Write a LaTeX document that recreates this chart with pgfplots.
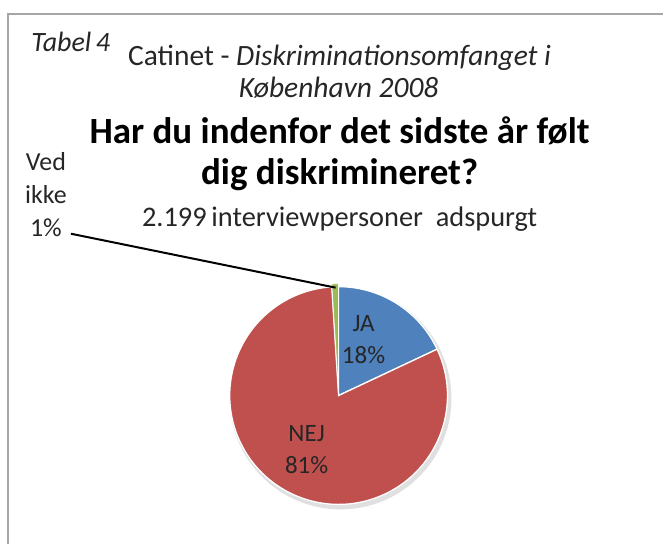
\documentclass[border=0pt]{standalone}
\usepackage{pgfplots}
\pgfplotsset{compat=1.18}
\usepackage{pgfplotstable}
\usepackage{fontspec}
\setmainfont{Carlito}

\definecolor{jablue}{HTML}{4F81BD}
\definecolor{nejred}{HTML}{C0504D}
\definecolor{vedgreen}{HTML}{9BBB59}

% andele i procent
\pgfplotstableread{
label value
JA    18
NEJ   81
Ved   1
}\piedata

\begin{document}
\begin{tikzpicture}
  \pgfplotstablegetelem{0}{value}\of\piedata \pgfmathsetmacro\vJA{\pgfplotsretval}
  \pgfplotstablegetelem{1}{value}\of\piedata \pgfmathsetmacro\vNEJ{\pgfplotsretval}
  \pgfplotstablegetelem{2}{value}\of\piedata \pgfmathsetmacro\vVED{\pgfplotsretval}
  \pgfmathsetmacro\aA{90-3.6*\vJA}
  \pgfmathsetmacro\aB{\aA-3.6*\vNEJ}
  \pgfmathsetmacro\aC{\aB-3.6*\vVED}
  \begin{axis}[
      x=1pt, y=1pt,
      xmin=0, xmax=664, ymin=0, ymax=545,
      y dir=reverse,
      hide axis, clip=false,
    ]
    \path (axis cs:0,0) rectangle (axis cs:664,545);
    % ramme
    \draw[gray!70, line width=1.6pt] (axis cs:8,545) -- (axis cs:8,14) -- (axis cs:664,14);

    % skygge
    \fill[black, opacity=0.12] (axis cs:341,399) circle[radius=111pt];
    % skiver
    \filldraw[fill=jablue, draw=white, line width=1.3pt]
      (axis cs:339,396) -- ++(90:109pt) arc[start angle=90, end angle=\aA, radius=109pt] -- cycle;
    \filldraw[fill=nejred, draw=white, line width=1.3pt]
      (axis cs:339,396) -- ++(\aA:109pt) arc[start angle=\aA, end angle=\aB, radius=109pt] -- cycle;
    \filldraw[fill=vedgreen, draw=white, line width=0.8pt]
      (axis cs:339,394) -- ++(\aB:110pt) arc[start angle=\aB, end angle=\aC, radius=110pt] -- cycle;

    % ledelinje
    \draw[black, line width=2pt] (axis cs:71,234) -- (axis cs:336,288);

    % tekster
    \node[anchor=base west, font=\fontsize{28}{32}\selectfont\itshape, text=black!85] at (axis cs:28,52) {Tabel\,4};
    \node[anchor=base, font=\fontsize{29.5}{34}\selectfont, text=black!85] at (axis cs:340,66) {Catinet - \textit{Diskriminationsomfanget i}};
    \node[anchor=base, font=\fontsize{29.5}{34}\selectfont\itshape, text=black!85] at (axis cs:339,98) {København 2008};
    \node[anchor=base, font=\fontsize{37}{42}\selectfont\bfseries] at (axis cs:340,144) {Har du indenfor det sidste år følt};
    \node[anchor=base, font=\fontsize{37}{42}\selectfont\bfseries] at (axis cs:340,185) {dig diskrimineret?};
    \node[anchor=base, font=\fontsize{28.4}{32}\selectfont, text=black!85] at (axis cs:340,227) {2.199\,interviewpersoner\ \ adspurgt};

    \node[anchor=base, font=\fontsize{26}{30}\selectfont, text=black!85] at (axis cs:46,171) {Ved};
    \node[anchor=base, font=\fontsize{26}{30}\selectfont, text=black!85] at (axis cs:46,204) {ikke};
    \node[anchor=base, font=\fontsize{26}{30}\selectfont, text=black!85] at (axis cs:46,237) {1\%};

    \node[anchor=base, font=\fontsize{25}{30}\selectfont, text=black!85] at (axis cs:364,332) {JA};
    \node[anchor=base, font=\fontsize{25}{30}\selectfont, text=black!85] at (axis cs:364,364) {18\%};
    \node[anchor=base, font=\fontsize{25}{30}\selectfont, text=black!85] at (axis cs:307,442) {NEJ};
    \node[anchor=base, font=\fontsize{25}{30}\selectfont, text=black!85] at (axis cs:307,474) {81\%};
  \end{axis}
\end{tikzpicture}
\end{document}
